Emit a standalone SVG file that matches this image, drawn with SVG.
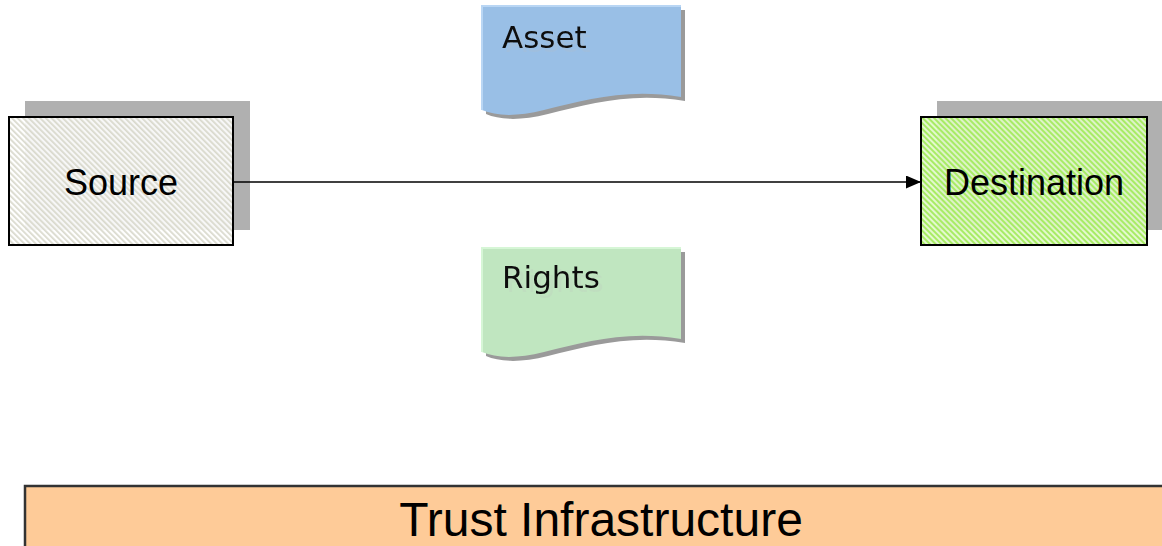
<svg xmlns="http://www.w3.org/2000/svg" width="1162" height="546" viewBox="0 0 1162 546">
  <style>
    .box { stroke: #000; stroke-width: 2; }
    .shadow { fill: #b0b0b0; }
    .doc-shadow { fill: #9a9a9a; }
    .label { font-family: "Liberation Sans", Arial, sans-serif; font-size: 36px; fill: #000; text-anchor: middle; }
    .doc-label { font-family: "DejaVu Sans", Verdana, sans-serif; font-size: 31px; fill: #111; filter: url(#ghost); }
    .edge { stroke: #000; stroke-width: 1.5; fill: none; }
  </style>
  <defs>
    <pattern id="hatchGrey" width="4" height="4" patternUnits="userSpaceOnUse" patternTransform="rotate(-45)">
      <rect width="4" height="4" fill="#ffffff" fill-opacity="0.9"/>
      <rect width="1.8" height="4" fill="#d4d4c6" fill-opacity="0.85"/>
    </pattern>
    <pattern id="hatchGreen" width="4" height="4" patternUnits="userSpaceOnUse" patternTransform="rotate(-45)">
      <rect width="4" height="4" fill="#e2f8cc" fill-opacity="0.92"/>
      <rect width="2" height="4" fill="#a8ec64"/>
    </pattern>
    <marker id="arrow" viewBox="0 0 15 13" refX="15" refY="6.5" markerWidth="15" markerHeight="13" markerUnits="userSpaceOnUse" orient="auto">
      <path d="M0,0 L15,6.5 L0,13 Z" fill="#000"/>
    </marker>
    <filter id="ghost" x="-10%" y="-20%" width="130%" height="160%">
      <feOffset in="SourceGraphic" dx="4" dy="4" result="off"/>
      <feColorMatrix in="off" type="matrix" values="0 0 0 0 0.5  0 0 0 0 0.5  0 0 0 0 0.5  0 0 0 0.18 0" result="faint"/>
      <feMerge>
        <feMergeNode in="faint"/>
        <feMergeNode in="SourceGraphic"/>
      </feMerge>
    </filter>
  </defs>

  <rect width="1162" height="546" fill="#ffffff"/>

  <!-- source -->
  <g id="source">
    <rect class="shadow" x="25" y="101" width="225" height="129"/>
    <rect class="box" x="9" y="117" width="224" height="128" fill="url(#hatchGrey)"/>
    <text class="label" x="121" y="195">Source</text>
  </g>

  <!-- destination -->
  <g id="destination">
    <rect class="shadow" x="937" y="101" width="226" height="129"/>
    <rect class="box" x="921" y="117" width="226" height="128" fill="url(#hatchGreen)"/>
    <text class="label" x="1034" y="195">Destination</text>
  </g>

  <!-- asset document -->
  <g id="asset">
    <path class="doc-shadow" d="M486,10 H685 V101 C630,92 590,104 548,114 C520,121 500,120 486,114 Z"/>
    <path d="M482,6 H681 V97 C626,88 586,100 544,110 C516,117 496,116 482,110 Z" fill="#99bfe6"/>
    <path d="M482,110 V6 H681" fill="none" stroke="#b9d6f4" stroke-width="2"/>
    <text class="doc-label" x="502" y="48">Asset</text>
  </g>

  <!-- rights document -->
  <g id="rights">
    <path class="doc-shadow" d="M486,252 H685 V343 C630,334 590,346 548,356 C520,363 500,362 486,356 Z"/>
    <path d="M482,248 H681 V339 C626,330 586,342 544,352 C516,359 496,358 482,352 Z" fill="#c0e6c0"/>
    <path d="M482,352 V248 H681" fill="none" stroke="#d6f6d6" stroke-width="2"/>
    <text class="doc-label" x="502" y="288">Rights</text>
  </g>

  <!-- trust infrastructure band -->
  <g id="trust">
    <rect x="25" y="486" width="1160" height="80" fill="#fecb98" stroke="#333" stroke-width="2.5"/>
    <text class="label" x="601" y="536" style="font-size:48px">Trust Infrastructure</text>
  </g>

  <!-- connector, drawn over the node shadows -->
  <g id="connectors">
    <line class="edge" x1="233" y1="182" x2="921" y2="182" marker-end="url(#arrow)"/>
  </g>
</svg>
